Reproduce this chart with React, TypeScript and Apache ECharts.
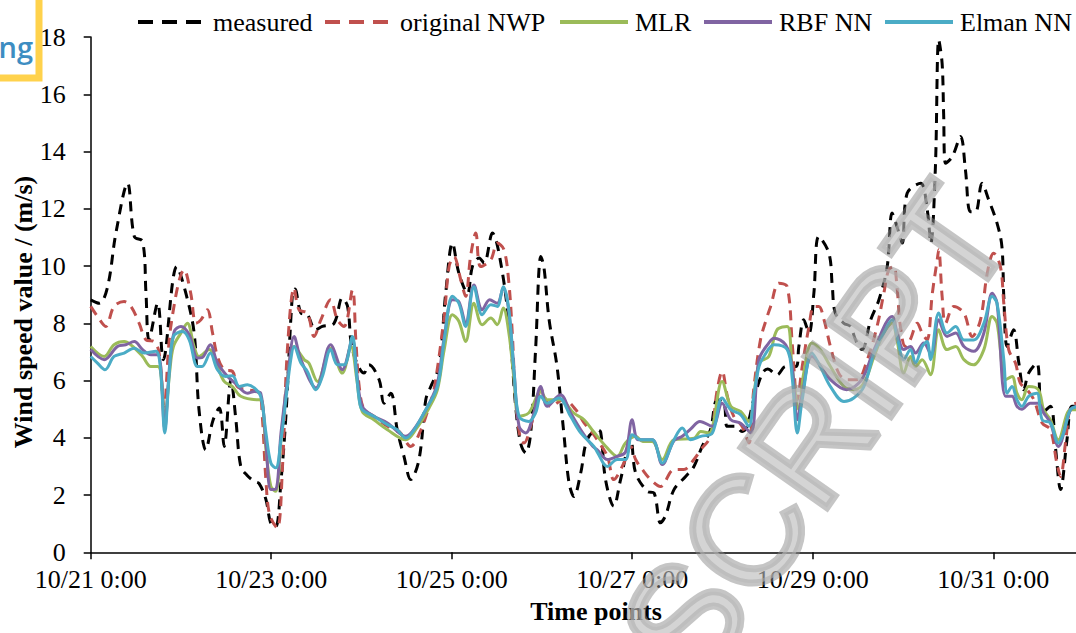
import React, { useEffect, useRef } from "react";
import * as echarts from "echarts";

// ---- data (hours since 10/21 0:00, wind speed m/s) ----
const tickHours = [0, 48, 96, 144, 192, 240];
const tickLabels = ["10/21 0:00", "10/23 0:00", "10/25 0:00", "10/27 0:00", "10/29 0:00", "10/31 0:00"];
const seriesNames = ["measured", "original NWP", "MLR", "RBF NN", "Elman NN"];

const measuredHours = [0, 2.3, 4.5, 6.7, 9.8, 11.6, 13.8, 14.7, 15.5, 17.8, 19.3, 22.9, 25.3, 27.5, 28.8, 30.6, 32.5, 34.2, 35.5, 37.3, 38.6, 39.9, 41.5, 43.5, 44.8, 46.6, 47.9, 49.2, 50.6, 51.9, 53.6, 54.3, 55.9, 57.6, 59.8, 61.6, 64.7, 66.9, 68.3, 69.6, 72.7, 74, 76.7, 78, 79.8, 81.5, 83.3, 85.1, 87.3, 89.1, 90.3, 92.6, 94.4, 96.2, 97.9, 100.2, 101.5, 103.3, 104.6, 106.8, 109.5, 111.7, 113, 114.3, 115.7, 117, 118.3, 119.7, 120.5, 121.9, 124, 125.8, 127.2, 128.5, 130.3, 132, 134.7, 135.6, 136.9, 139.1, 140.9, 143.6, 144.9, 148, 149.8, 151.5, 152.8, 155.1, 158.2, 160.4, 162.6, 164.8, 166.6, 168.4, 169.3, 171.5, 173.2, 174.5, 176.3, 178.6, 180, 182.5, 184.8, 187.5, 188.3, 189.6, 191, 192.3, 193.6, 196.3, 197.2, 198, 200.3, 202, 203.4, 205.1, 207.4, 209.6, 211.8, 213.1, 214.4, 215.8, 217.1, 220.7, 222.4, 223.4, 224.6, 225.5, 226.4, 226.8, 227.3, 229.1, 231.3, 232.6, 233.9, 235.3, 237, 238.8, 241, 242.3, 242.8, 243.7, 245.4, 246.8, 248.1, 249.4, 251.6, 253, 255.2, 256.5, 257.9, 259.6, 260.9, 262.5];
const measuredValues = [8.82, 8.7, 9.28, 11.15, 12.89, 11.03, 10.86, 9.05, 7.42, 8.7, 6.73, 9.98, 9.05, 7.66, 4.98, 3.58, 4.6, 5.04, 3.7, 6.03, 4.63, 3.0, 2.7, 2.48, 2.4, 1.84, 1.0, 0.9, 2.5, 4.75, 8.94, 9.2, 8.36, 8.3, 7.77, 7.89, 8.0, 8.88, 8.59, 7.08, 6.26, 6.55, 6.03, 5.21, 5.56, 4.28, 3.35, 2.54, 3.24, 5.33, 5.75, 6.49, 9.05, 10.8, 9.75, 9.05, 9.98, 10.28, 10.1, 11.15, 9.75, 7.31, 5.1, 3.82, 3.47, 4.17, 7.08, 10.33, 9.98, 8.12, 6.49, 4.17, 2.42, 1.95, 2.77, 3.93, 4.28, 4.2, 2.54, 1.61, 2.54, 3.93, 2.77, 2.13, 2.07, 1.03, 1.26, 2.19, 2.65, 3.0, 3.7, 4.28, 5.33, 5.21, 4.4, 4.4, 4.22, 4.4, 5.33, 6.26, 6.4, 6.2, 6.49, 6.49, 7.19, 8.12, 7.66, 9.05, 11.03, 10.45, 9.28, 8.36, 8.0, 7.89, 7.42, 7.08, 8.12, 8.82, 9.98, 11.85, 11.38, 10.8, 12.54, 12.89, 12.0, 10.8, 13.4, 17.9, 17.08, 15.34, 13.59, 13.82, 14.52, 13.36, 11.9, 11.9, 12.89, 12.31, 11.5, 10.68, 8.94, 7.19, 7.77, 6.61, 5.68, 6.26, 6.61, 4.87, 5.1, 3.7, 2.19, 3.93, 5.1, 5.1];

const nwpHours = [0, 1.8, 4, 6.2, 8.9, 10.7, 12.9, 14.7, 16.9, 18.2, 19.5, 21.3, 24.9, 26.6, 28, 29.3, 31, 32.4, 33.7, 35.5, 37.7, 39, 41.7, 44.8, 45.6, 46.6, 47.6, 49.6, 51, 52.3, 54.1, 55.4, 57.6, 59.4, 61.2, 63.8, 65.6, 67.4, 69.6, 70.5, 71.4, 72.7, 75.3, 78.9, 82, 85.1, 87.8, 90, 91.3, 94, 95.3, 96.6, 98.4, 99.7, 101, 102.4, 103.7, 106.4, 108.1, 109.9, 111.2, 112.1, 113, 114.3, 115.2, 117, 118.8, 119.7, 122.3, 125.8, 129, 131.2, 133.4, 134.7, 137.4, 139.1, 141.8, 143.6, 144.9, 146.7, 148.9, 151.5, 155.1, 157.7, 160.4, 162.2, 164.8, 166.6, 167.9, 169.3, 171, 173.2, 175, 176.3, 178.1, 179.9, 180.8, 183, 185.2, 186.6, 187.9, 189.2, 191, 192.3, 193.6, 195, 196.7, 198.9, 201.1, 203.8, 206.5, 209.1, 210.9, 212.2, 213.5, 214.4, 215.3, 216.6, 217.9, 219.8, 221.1, 222.4, 223.8, 225.1, 225.5, 226.4, 227.3, 229.5, 232.2, 234.4, 236.6, 238.4, 240.1, 241.9, 242.8, 244.1, 245.9, 247.2, 249, 250.8, 253, 255.2, 256.9, 257.9, 259.2, 260.6, 262.5];
const nwpValues = [8.59, 8.24, 7.89, 8.59, 8.76, 8.59, 8.0, 7.42, 7.36, 6.96, 5.1, 7.89, 9.87, 9.05, 8.0, 8.12, 8.47, 7.66, 6.84, 6.38, 6.32, 5.79, 5.68, 5.56, 4.8, 2.5, 1.3, 0.85, 3.0, 7.08, 9.23, 8.47, 8.36, 7.54, 8.12, 8.82, 8.12, 7.89, 9.17, 7.42, 5.79, 4.98, 4.75, 4.4, 4.22, 3.7, 4.28, 5.1, 5.68, 8.24, 9.98, 10.33, 9.52, 8.94, 10.33, 11.15, 9.98, 10.22, 10.8, 10.57, 9.4, 7.66, 5.33, 3.93, 3.82, 4.4, 5.33, 5.68, 5.1, 5.33, 4.98, 4.52, 4.17, 3.93, 3.35, 2.54, 3.12, 3.7, 3.24, 2.89, 2.54, 2.3, 2.89, 2.89, 3.24, 3.58, 4.05, 5.68, 6.32, 5.45, 4.75, 4.4, 3.82, 5.68, 7.42, 8.24, 8.59, 9.4, 9.28, 7.19, 5.33, 6.49, 7.89, 8.59, 8.59, 8.12, 7.19, 6.26, 6.03, 6.03, 6.73, 7.89, 9.05, 9.87, 9.98, 9.28, 7.89, 7.19, 7.42, 8.0, 7.66, 7.42, 9.05, 10.22, 10.57, 8.94, 8.0, 8.59, 8.36, 7.54, 8.12, 9.75, 10.45, 9.98, 8.7, 7.08, 6.61, 5.91, 5.68, 5.33, 4.52, 4.28, 3.12, 2.65, 3.82, 5.1, 5.22];

const mlrHours = [0, 3.6, 6.2, 8.9, 11.2, 13.8, 16, 17.8, 18.6, 19.7, 21, 22, 24, 25.7, 27.5, 28.8, 31.5, 33.7, 35.5, 37.7, 39.9, 44.8, 45.4, 46.6, 47.9, 49.2, 50.6, 52.3, 54.1, 56.8, 58, 60.3, 63.8, 66.9, 69.2, 70.8, 72.2, 75.3, 78.9, 83.8, 86.5, 90, 92.2, 94, 96.2, 97.9, 99.7, 101.9, 104.1, 106.4, 108.1, 109.7, 111.2, 112.6, 113.9, 116.5, 119.7, 121.4, 124.9, 128.4, 131.2, 133.8, 137.4, 140, 142.2, 144.9, 146.8, 149.3, 152, 155.1, 160.5, 162.2, 164.4, 167.9, 170.2, 172.8, 175, 177.7, 180.3, 182.5, 185.2, 186.5, 188.3, 189.6, 191.8, 194, 196.7, 200.3, 202.9, 205.6, 208.3, 210.9, 213.1, 214.4, 216.2, 218, 219.3, 221.1, 223.3, 225.5, 227.7, 230, 232.2, 234.8, 237.5, 239.7, 241, 243.3, 245, 246.3, 247.6, 249.4, 252, 253.4, 255.2, 257.3, 260.5, 262.5];
const mlrValues = [7.19, 6.84, 7.25, 7.36, 7.19, 6.84, 6.49, 6.49, 6.3, 4.6, 6.3, 7.19, 7.66, 8.0, 7.19, 6.84, 7.08, 6.49, 5.97, 5.79, 5.45, 5.33, 5.33, 3.6, 2.3, 2.13, 3.93, 6.0, 7.19, 6.73, 6.61, 5.97, 7.13, 6.26, 7.19, 6.0, 4.92, 4.63, 4.28, 3.93, 4.3, 5.05, 5.68, 7.08, 8.3, 8.07, 7.36, 8.7, 7.95, 8.18, 7.95, 8.53, 7.66, 6.0, 4.75, 4.87, 5.62, 5.33, 5.33, 4.87, 4.63, 4.2, 3.64, 3.35, 3.82, 4.05, 3.87, 3.87, 3.24, 3.93, 3.99, 4.22, 4.17, 5.97, 5.1, 4.92, 4.57, 6.61, 6.84, 7.77, 7.89, 6.49, 4.98, 6.26, 7.31, 7.08, 6.49, 5.79, 5.68, 5.91, 6.84, 7.66, 8.0, 7.42, 6.26, 6.84, 6.49, 6.73, 6.2, 7.77, 7.08, 7.19, 6.73, 6.55, 7.08, 8.24, 8.0, 6.03, 6.14, 5.56, 5.33, 5.79, 5.68, 4.98, 4.63, 3.93, 4.98, 4.98];

const rbfHours = [0, 3.6, 7.1, 9.3, 11.6, 13.8, 16, 17.8, 18.6, 19.7, 20.9, 22.2, 24, 26.2, 28.4, 29.6, 31.8, 33.7, 36.4, 38.5, 41.7, 43.5, 45.2, 46.6, 47.9, 49.2, 50.6, 52.3, 54.1, 55.9, 59.9, 63.8, 66.9, 69.6, 70.8, 72.2, 75.3, 78.9, 83.8, 86.5, 90, 92.2, 94, 96.2, 97.9, 99.7, 101.9, 104.1, 106.1, 108.1, 109.7, 111.2, 112.6, 113.9, 115.7, 117.5, 119.7, 121.4, 124.9, 127.6, 130.3, 133.5, 134.7, 137.4, 140, 142.2, 144, 145.6, 149.3, 152, 155.1, 157.3, 159.5, 162, 165.3, 167.9, 170.2, 172.8, 175.5, 177.7, 180.3, 181.7, 184.8, 186.5, 187.9, 189.2, 191.8, 196.7, 201, 205, 208.3, 213.1, 214.4, 216.2, 218, 219.3, 221.5, 223.5, 225.5, 227.7, 230, 232.2, 234.8, 237.5, 239.7, 241, 243.3, 245, 246.3, 247.6, 249.8, 252, 253.4, 255.2, 257.3, 260.5, 262.5];
const rbfValues = [7.08, 6.73, 7.19, 7.25, 7.36, 7.08, 6.9, 6.9, 6.5, 4.3, 6.4, 7.71, 7.89, 7.6, 6.79, 6.8, 7.25, 6.61, 6.14, 5.9, 5.56, 5.62, 5.56, 3.8, 2.19, 2.2, 4.17, 6.0, 7.54, 6.73, 5.74, 7.25, 6.38, 7.42, 6.2, 5.1, 4.75, 4.52, 4.05, 4.4, 5.2, 5.9, 7.5, 8.82, 8.75, 8.0, 9.34, 8.47, 8.82, 8.7, 9.23, 8.4, 6.3, 4.4, 4.17, 4.7, 5.79, 5.1, 5.5, 4.87, 4.28, 3.7, 3.58, 3.24, 3.35, 3.5, 4.63, 3.93, 3.93, 3.07, 3.9, 4.05, 4.3, 4.57, 4.4, 5.21, 4.63, 4.51, 4.17, 6.73, 7.31, 7.48, 7.25, 6.5, 4.63, 5.5, 6.84, 6.03, 5.68, 6.03, 7.08, 8.24, 7.7, 7.08, 7.19, 6.96, 7.31, 6.9, 8.12, 7.54, 7.66, 7.19, 7.02, 7.66, 9.05, 8.7, 5.45, 5.45, 5.1, 5.0, 5.21, 5.21, 4.87, 4.52, 3.7, 4.98, 5.1];

const elmanHours = [0, 1.8, 3.8, 6.2, 8.9, 11.6, 14.2, 17.3, 18.5, 19.7, 20.9, 22, 24.4, 26.2, 28.4, 29.6, 31.8, 33.7, 35.9, 37.7, 39.5, 41.7, 43.5, 45.2, 46.6, 47.9, 49.2, 50.6, 51.9, 53.2, 54.1, 55.9, 57.6, 59.9, 61.6, 63.8, 65.6, 67.4, 69.6, 70.5, 71.4, 72.2, 75.3, 78.9, 81.5, 83.8, 86, 88.6, 92.2, 94, 96.2, 97.9, 99.7, 101.9, 104.1, 106.4, 108.1, 109.7, 111.2, 112.6, 113.9, 116.5, 118.3, 119.7, 121.4, 124.5, 127.6, 130.3, 133.8, 134.7, 137.4, 140, 142.2, 144, 146.2, 149.3, 152, 155.1, 157.3, 159.5, 162.2, 165.3, 167.9, 170.2, 172.8, 175, 176.3, 177.7, 179, 181.7, 185.2, 186.5, 187.9, 189.2, 191.8, 194, 196.7, 200.3, 202.9, 205.6, 208.3, 210.9, 213.1, 214.4, 216.2, 218, 219.3, 221.1, 222.4, 223.3, 225.5, 227.7, 230, 232.2, 234.8, 237.5, 239.7, 241, 242.8, 243.7, 245, 246.3, 247.6, 249.4, 251.6, 253, 255.2, 257.3, 258.7, 260.5, 262.5];
const elmanValues = [6.84, 6.61, 6.38, 6.84, 6.96, 7.13, 6.96, 7.02, 6.49, 4.17, 6.27, 7.54, 7.71, 7.42, 6.49, 6.49, 6.96, 6.38, 6.14, 6.17, 5.79, 5.85, 5.74, 5.45, 4.17, 3.12, 2.95, 3.93, 5.33, 6.73, 7.19, 6.61, 6.32, 5.68, 6.14, 7.08, 6.55, 6.55, 7.54, 6.49, 5.33, 4.98, 4.75, 4.46, 4.28, 3.99, 4.28, 4.87, 5.79, 7.42, 8.94, 8.7, 7.89, 9.28, 8.3, 8.65, 8.59, 9.28, 8.47, 6.26, 4.75, 4.57, 4.87, 5.45, 5.21, 5.39, 4.75, 4.17, 3.7, 3.5, 3.0, 3.24, 3.24, 4.11, 3.93, 3.93, 3.12, 3.93, 4.34, 3.93, 4.05, 4.17, 5.39, 4.98, 4.81, 4.4, 5.45, 6.49, 6.84, 7.25, 7.08, 6.14, 4.17, 5.33, 6.96, 6.49, 5.79, 5.27, 5.39, 5.79, 6.96, 7.66, 8.12, 7.54, 6.73, 7.08, 6.61, 7.19, 7.36, 6.73, 8.36, 7.66, 7.89, 7.42, 7.42, 8.0, 8.94, 8.7, 6.73, 5.56, 5.79, 5.33, 5.1, 5.45, 5.56, 4.63, 4.52, 3.82, 4.17, 4.98, 5.1];

const seriesHours = [measuredHours, nwpHours, mlrHours, rbfHours, elmanHours];
const seriesValues = [measuredValues, nwpValues, mlrValues, rbfValues, elmanValues];

// ---- styles ----
const seriesColors = ["#000000", "#C0504D", "#9BBB59", "#8064A2", "#4BACC6"];
const seriesDashes: any[] = [[10, 7], [10, 7], "solid", "solid", "solid"];
const legendDashes: any[] = [[15, 9], [15, 9], "solid", "solid", "solid"];
const legendLefts = [131, 318, 553, 697, 878];
const SERIF = "'Liberation Serif', 'Times New Roman', serif";

export default function App() {
  const ref = useRef<HTMLDivElement>(null);

  useEffect(() => {
    if (!ref.current) return;
    const chart = echarts.init(ref.current, undefined, { renderer: "svg" });

    const series = seriesNames.map((name, i) => ({
      name,
      type: "line",
      data: seriesHours[i].map((h, k) => [h, seriesValues[i][k]]),
      showSymbol: false,
      symbol: "none",
      symbolSize: 0,
      smooth: 0.35,
      lineStyle: { color: seriesColors[i], width: 3, type: seriesDashes[i] },
      itemStyle: { color: seriesColors[i] },
      z: 2 + i,
    }));

    const legend = seriesNames.map((name, i) => ({
      data: [name],
      left: legendLefts[i],
      top: 4,
      itemWidth: 68,
      itemHeight: 14,
      selectedMode: false,
      itemStyle: { opacity: 0, borderWidth: 0 },
      lineStyle: { width: 4, type: legendDashes[i], color: seriesColors[i] },
      textStyle: {
        fontFamily: SERIF,
        fontSize: 26,
        lineHeight: 26,
        color: "#000",
        padding: [0, 0, 0, 2],
      },
    }));

    chart.setOption({
      animation: false,
      backgroundColor: "#ffffff",
      grid: { left: 90.7, right: 0, top: 37, bottom: 80.7, containLabel: false },
      legend,
      xAxis: {
        type: "value",
        min: 0,
        max: 262,
        interval: 48,
        axisLine: { onZero: false, lineStyle: { color: "#000", width: 1.5 } },
        axisTick: { show: true, length: 7, customValues: tickHours, lineStyle: { color: "#000", width: 1.5 } },
        axisLabel: {
          customValues: tickHours,
          formatter: (v: number) => tickLabels[tickHours.indexOf(v)] ?? "",
          fontFamily: SERIF,
          fontSize: 26,
          color: "#000",
          margin: 14,
        },
        splitLine: { show: false },
      },
      yAxis: {
        type: "value",
        min: 0,
        max: 18,
        interval: 2,
        axisLine: { show: true, lineStyle: { color: "#000", width: 1.5 } },
        axisTick: { show: true, length: 7, lineStyle: { color: "#000", width: 1.5 } },
        axisLabel: { fontFamily: SERIF, fontSize: 26, color: "#000", margin: 25 },
        splitLine: { show: false },
      },
      series,
      graphic: [
        {
          type: "text",
          x: 23,
          y: 312,
          rotation: Math.PI / 2,
          style: {
            text: "Wind speed value / (m/s)",
            font: `bold 26px ${SERIF}`,
            fill: "#000",
            textAlign: "center",
            textVerticalAlign: "middle",
          },
        },
        {
          type: "text",
          x: 596,
          y: 611,
          style: {
            text: "Time points",
            font: `bold 26px ${SERIF}`,
            fill: "#000",
            textAlign: "center",
            textVerticalAlign: "middle",
          },
        },
        {
          type: "rect",
          shape: { x: -10, y: -10, width: 49, height: 88 },
          style: { fill: "#ffffff", stroke: "#FFD24C", lineWidth: 7 },
          z: 100,
        },
        {
          type: "text",
          x: 33,
          y: 46,
          style: {
            text: "ng",
            font: "600 29px 'Open Sans', sans-serif",
            fill: "#3D8DC2",
            textAlign: "right",
            textVerticalAlign: "middle",
          },
          z: 101,
        },
        {
          type: "text",
          x: 815,
          y: 432,
          rotation: (55 * Math.PI) / 180,
          style: {
            text: "SCRIPT",
            font: "152px 'Liberation Sans', sans-serif",
            fill: "rgba(185,185,185,0.62)",
            stroke: "rgba(140,140,140,0.5)",
            lineWidth: 7,
            textAlign: "center",
            textVerticalAlign: "middle",
          },
          z: 90,
        },
      ],
    });

    return () => chart.dispose();
  }, []);

  return (
    <div
      ref={ref}
      style={{ position: "fixed", left: 0, top: 0, width: 1076, height: 633, background: "#fff" }}
    />
  );
}
